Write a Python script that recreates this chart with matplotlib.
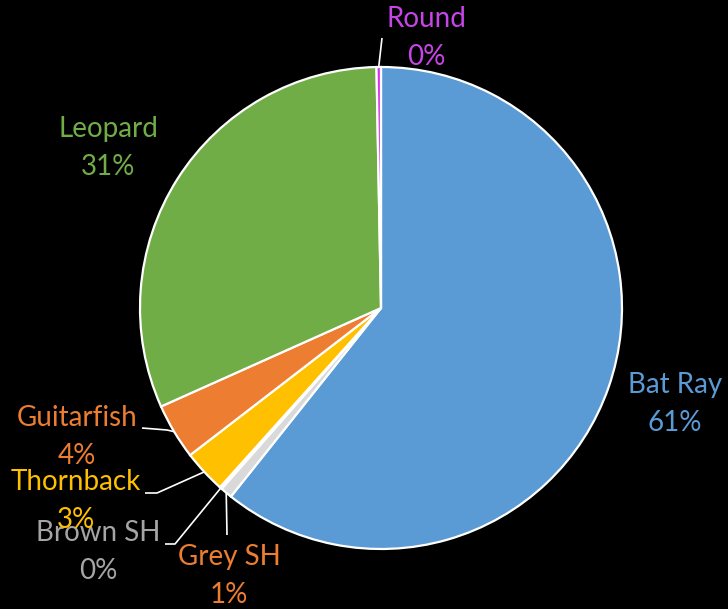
import numpy as np
import matplotlib
matplotlib.use('Agg')
import matplotlib.pyplot as plt

# species share of catch (%), clockwise from 12 o'clock
species = ['Bat Ray', 'Grey SH', 'Brown SH', 'Thornback', 'Guitarfish', 'Leopard', 'Round']
share = [60.7, 0.8, 0.15, 2.9, 3.75, 31.4, 0.3]
pct_labels = ['61%', '1%', '0%', '3%', '4%', '31%', '0%']

slice_colors = ['#5B9BD5', '#D9D9D9', '#A5A5A5', '#FFC000', '#ED7D31', '#70AD47', '#D633E8']
text_colors = ['#5B9BD5', '#ED7D31', '#A5A5A5', '#FFC000', '#ED7D31', '#70AD47', '#C545E6']

W, H = 728, 609
CX, CY, R = 381, H - 308, 241

# label centres (pixels from top-left) and leader elbows
label_pos = {
    'Bat Ray': (675, 404),
    'Grey SH': (229, 576),
    'Brown SH': (98, 552),
    'Thornback': (76, 501),
    'Guitarfish': (77, 437),
    'Leopard': (108, 148),
    'Round': (426, 38),
}
leaders = {
    'Grey SH': [(227, 535)],
    'Brown SH': [(175, 544), (165, 544)],
    'Thornback': [(157, 493), (145, 493)],
    'Guitarfish': [(167, 430), (142, 428)],
    'Round': [(382, 38)],
}

BG = '#000000'
fig = plt.figure(figsize=(W / 100, H / 100), dpi=100, facecolor=BG)
ax = fig.add_axes([0, 0, 1, 1])
ax.set_facecolor(BG)

wedges, _ = ax.pie(share, colors=slice_colors, startangle=90, counterclock=False,
                   center=(CX, CY), radius=R, frame=True,
                   wedgeprops={'edgecolor': 'white', 'linewidth': 1.6})
ax.set_xlim(0, W)
ax.set_ylim(0, H)
ax.set_aspect('equal')
ax.axis('off')

for w, name, pct, tc in zip(wedges, species, pct_labels, text_colors):
    mid = np.deg2rad((w.theta1 + w.theta2) / 2)
    if name in leaders:
        edge = (CX + R * np.cos(mid), CY + R * np.sin(mid))
        pts = [edge] + [(x, H - y) for x, y in leaders[name]]
        xs, ys = zip(*pts)
        ax.plot(xs, ys, color='white', linewidth=1.2, solid_capstyle='butt')
    lx, ly = label_pos[name]
    ax.text(lx, H - ly, f'{name}\n{pct}', color=tc, fontsize=20, family='Lato',
            ha='center', va='center', linespacing=1.55)

fig.savefig('out.png', dpi=100, facecolor=BG)
